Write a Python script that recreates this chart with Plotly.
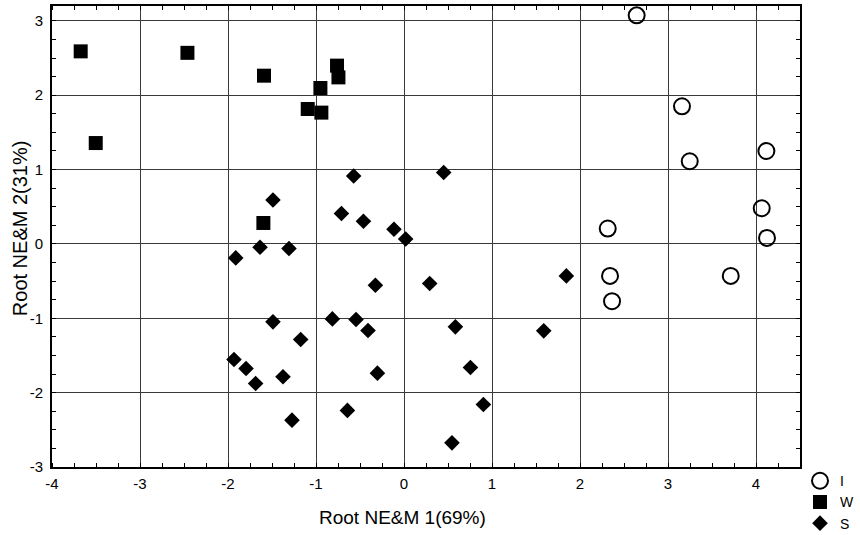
import plotly.graph_objects as go

# Group I (open circles)
i_x = [2.644, 3.159, 3.247, 4.118, 4.065, 4.125, 2.315, 2.341, 2.364, 3.713]
i_y = [3.074, 1.851, 1.112, 1.250, 0.480, 0.081, 0.207, -0.430, -0.770, -0.430]

# Group W (filled squares)
w_x = [-3.674, -2.461, -3.503, -1.591, -0.761, -0.745, -0.950, -1.094, -0.939, -1.598]
w_y = [2.590, 2.570, 1.357, 2.263, 2.398, 2.240, 2.097, 1.815, 1.766, 0.282]

# Group S (filled diamonds)
s_x = [-1.489, -0.572, -0.711, -0.461, -0.114, 0.019, -1.636, -1.307, -1.912,
       -0.325, 0.292, -1.489, -0.814, -0.545, -0.409, -1.174, -1.932, -1.795,
       -1.686, -1.375, -0.302, -0.643, -1.273, 1.845, 0.584, 1.588, 0.755,
       0.902, 0.545, 0.451]
s_y = [0.591, 0.914, 0.409, 0.305, 0.198, 0.067, -0.044, -0.062, -0.188,
       -0.555, -0.532, -1.048, -1.008, -1.016, -1.164, -1.285, -1.554, -1.675,
       -1.876, -1.787, -1.738, -2.239, -2.370, -0.430, -1.115, -1.169, -1.661,
       -2.159, -2.675, 0.960]

x_ticks = [-4, -3, -2, -1, 0, 1, 2, 3, 4]
y_ticks = [-3, -2, -1, 0, 1, 2, 3]

x_title = "Root NE&M 1(69%)"
y_title = "Root NE&M 2(31%)"

FONT = "Liberation Sans, Arial, sans-serif"

fig = go.Figure()
fig.add_trace(go.Scatter(x=i_x, y=i_y, mode="markers", name="I",
                         marker=dict(symbol="circle-open", size=16, color="black",
                                     line=dict(width=2, color="black"))))
fig.add_trace(go.Scatter(x=w_x, y=w_y, mode="markers", name="W",
                         marker=dict(symbol="square", size=14, color="black")))
fig.add_trace(go.Scatter(x=s_x, y=s_y, mode="markers", name="S",
                         marker=dict(symbol="diamond", size=12, color="black")))

axis_common = dict(
    showline=True, linecolor="black", linewidth=2, mirror="ticks",
    showgrid=True, gridcolor="#3a3a3a", gridwidth=1,
    zeroline=False, ticks="", tickfont=dict(family=FONT, size=15, color="black"),
    minor=dict(ticks="inside", ticklen=4, tickcolor="black", showgrid=False),
)

fig.update_xaxes(range=[-4, 4.5], tickvals=x_ticks, ticktext=[str(v) for v in x_ticks],
                 minor_dtick=0.25, minor_tick0=0, ticklabelstandoff=2, **axis_common)
fig.update_yaxes(range=[-3, 3.2], tickvals=y_ticks, ticktext=[str(v) for v in y_ticks],
                 minor_dtick=0.25, minor_tick0=0, ticklabelstandoff=4, **axis_common)

fig.add_annotation(text=x_title, xref="paper", yref="paper", x=0.468, y=-0.1106,
                   xanchor="center", yanchor="middle", showarrow=False,
                   font=dict(family=FONT, size=19, color="black"))
fig.add_annotation(text=y_title, xref="paper", yref="paper", x=-0.0428, y=0.518,
                   xanchor="center", yanchor="middle", showarrow=False, textangle=-90,
                   font=dict(family=FONT, size=20, color="black"))

fig.update_layout(
    width=860, height=535,
    margin=dict(l=52, r=60, t=6, b=68, autoexpand=False),
    plot_bgcolor="white", paper_bgcolor="white",
    font=dict(family=FONT, size=14, color="black"),
    showlegend=True,
    legend=dict(x=1.0, xanchor="left", y=0.004, yanchor="top",
                font=dict(family=FONT, size=14, color="black"),
                bgcolor="rgba(0,0,0,0)", borderwidth=0,
                itemwidth=30, tracegroupgap=0),
)

fig.write_html("out.html", config={"displayModeBar": False},
               post_script="document.body.style.margin='0';document.body.style.padding='0';")
